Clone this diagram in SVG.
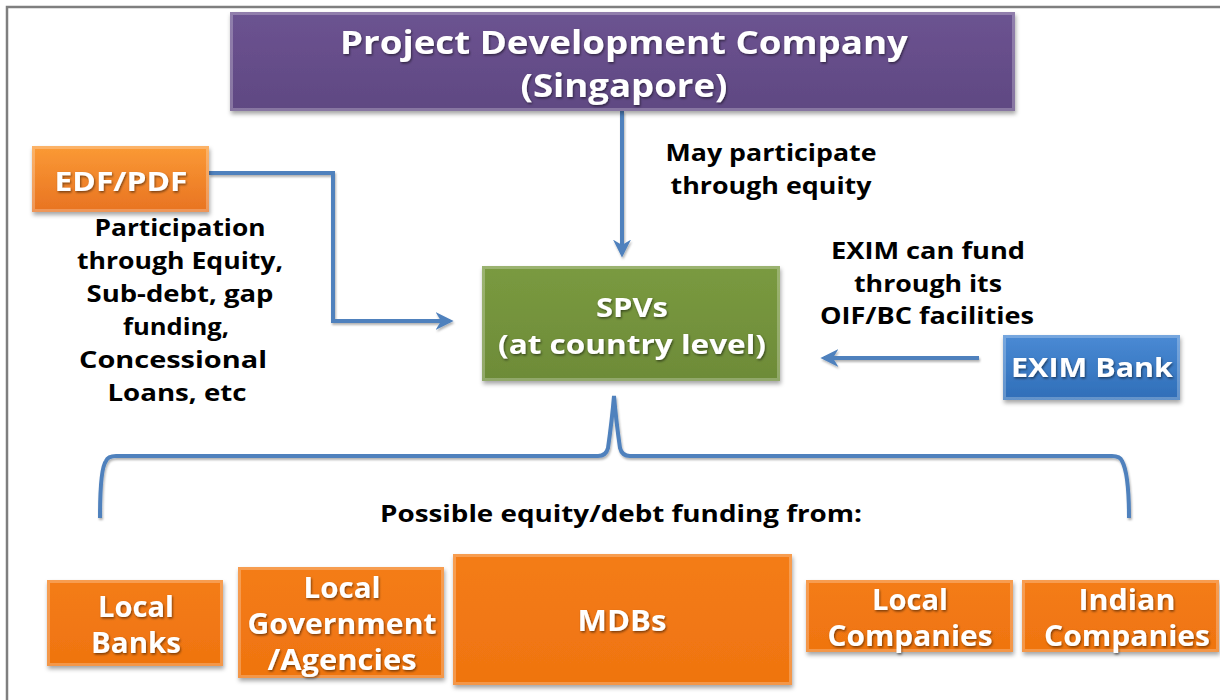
<svg xmlns="http://www.w3.org/2000/svg" width="1220" height="700" viewBox="0 0 1220 700">
<defs>
<linearGradient id="gPurple" x1="0" y1="0" x2="0" y2="1"><stop offset="0" stop-color="#6c5391"/><stop offset="1" stop-color="#5f4882"/></linearGradient>
<linearGradient id="gOrange1" x1="0" y1="0" x2="0" y2="1"><stop offset="0" stop-color="#fb9a35"/><stop offset="1" stop-color="#e87322"/></linearGradient>
<linearGradient id="gGreen" x1="0" y1="0" x2="0" y2="1"><stop offset="0" stop-color="#7a9a40"/><stop offset="1" stop-color="#6d8b38"/></linearGradient>
<linearGradient id="gBlue" x1="0" y1="0" x2="0" y2="1"><stop offset="0" stop-color="#4a8ad4"/><stop offset="1" stop-color="#2f6eb8"/></linearGradient>
<linearGradient id="gOrange2" x1="0" y1="0" x2="0" y2="1"><stop offset="0" stop-color="#f47c16"/><stop offset="1" stop-color="#ef7410"/></linearGradient>
<filter id="shadow" x="-10%" y="-10%" width="120%" height="130%"><feDropShadow dx="1" dy="3" stdDeviation="2" flood-color="#000" flood-opacity="0.35"/></filter>
<filter id="tshadow" x="-5%" y="-20%" width="110%" height="140%"><feDropShadow dx="1" dy="1.5" stdDeviation="1" flood-color="#000" flood-opacity="0.5"/></filter>
<filter id="lshadow" filterUnits="userSpaceOnUse" x="0" y="0" width="1220" height="700"><feDropShadow dx="1" dy="2" stdDeviation="1.2" flood-color="#000" flood-opacity="0.3"/></filter>
<marker id="arrow" viewBox="0 0 10 10" refX="8" refY="5" markerWidth="4.5" markerHeight="4.5" orient="auto" markerUnits="strokeWidth"><path d="M0,0 L10,5 L0,10 L3,5 Z" fill="#4f81bd"/></marker>
</defs>
<style>
.box{filter:url(#shadow)}
.bevel{fill:none;stroke:#ffffff;stroke-opacity:0.25;stroke-width:3}
.wt{font-family:"Open Sans",Lato,sans-serif;font-weight:bold;fill:#ffffff;text-anchor:middle;filter:url(#tshadow)}
.bt{font-family:"Open Sans",Lato,sans-serif;font-weight:bold;fill:#000000;text-anchor:middle;font-size:23px}
.conn{fill:none;stroke:#4f81bd;stroke-width:4;filter:url(#lshadow)}
</style>
<rect width="1220" height="700" fill="#ffffff"/>
<path d="M7,700 L7,7 L1220,7" fill="none" stroke="#7f7f7f" stroke-width="2.5"/>

<g id="connectors">
<path class="conn" d="M622,111 L622,254" marker-end="url(#arrow)"/>
<path class="conn" d="M209,173 L333,173 L333,321 L450,321" marker-end="url(#arrow)"/>
<path class="conn" d="M979,358 L824,358" marker-end="url(#arrow)"/>
<path class="conn" d="M100,518 C100,490 102,466 106,461 Q108,456 116,456 L598,456 Q606,456 608,448 Q612,420 614,396 Q616,420 620,448 Q622,456 630,456 L1112,456 Q1120,456 1122,461 C1127,470 1129,490 1129,518"/>
</g>

<g id="pdc">
<rect class="box" x="230" y="12" width="785" height="99" fill="url(#gPurple)"/>
<rect class="bevel" x="231.5" y="13.5" width="782" height="96"/>
<text class="wt" font-size="33" x="624" y="54" textLength="568" lengthAdjust="spacingAndGlyphs">Project Development Company</text>
<text class="wt" font-size="33" x="624" y="97" textLength="207" lengthAdjust="spacingAndGlyphs">(Singapore)</text>
</g>

<g id="edf">
<rect class="box" x="32" y="146" width="177" height="66" fill="url(#gOrange1)"/>
<rect class="bevel" x="33.5" y="147.5" width="174" height="63"/>
<text class="wt" font-size="27" x="121" y="191" textLength="133" lengthAdjust="spacingAndGlyphs">EDF/PDF</text>
</g>

<g id="edf-label">
<text class="bt" x="180" y="236" textLength="171" lengthAdjust="spacingAndGlyphs">Participation</text>
<text class="bt" x="180" y="269" textLength="206" lengthAdjust="spacingAndGlyphs">through Equity,</text>
<text class="bt" x="180" y="302" textLength="187" lengthAdjust="spacingAndGlyphs">Sub-debt, gap</text>
<text class="bt" x="176" y="335" textLength="106" lengthAdjust="spacingAndGlyphs">funding,</text>
<text class="bt" x="173" y="368" textLength="188" lengthAdjust="spacingAndGlyphs">Concessional</text>
<text class="bt" x="177" y="401" textLength="139" lengthAdjust="spacingAndGlyphs">Loans, etc</text>
</g>

<g id="pdc-label">
<text class="bt" x="771" y="161" textLength="211" lengthAdjust="spacingAndGlyphs">May participate</text>
<text class="bt" x="771" y="194" textLength="201" lengthAdjust="spacingAndGlyphs">through equity</text>
</g>

<g id="spv">
<rect class="box" x="482" y="266" width="298" height="115" fill="url(#gGreen)"/>
<rect class="bevel" x="483.5" y="267.5" width="295" height="112"/>
<text class="wt" font-size="27" x="632" y="317" textLength="72" lengthAdjust="spacingAndGlyphs">SPVs</text>
<text class="wt" font-size="27" x="632" y="354" textLength="268" lengthAdjust="spacingAndGlyphs">(at country level)</text>
</g>

<g id="exim-label">
<text class="bt" x="928" y="259" textLength="194" lengthAdjust="spacingAndGlyphs">EXIM can fund</text>
<text class="bt" x="928" y="292" textLength="148" lengthAdjust="spacingAndGlyphs">through its</text>
<text class="bt" x="927" y="324" textLength="214" lengthAdjust="spacingAndGlyphs">OIF/BC facilities</text>
</g>

<g id="exim">
<rect class="box" x="1003" y="335" width="177" height="65" fill="url(#gBlue)"/>
<rect class="bevel" x="1004.5" y="336.5" width="174" height="62"/>
<text class="wt" font-size="27" x="1092" y="377" textLength="162" lengthAdjust="spacingAndGlyphs">EXIM Bank</text>
</g>

<g id="funding-label">
<text class="bt" x="621" y="522" textLength="482" lengthAdjust="spacingAndGlyphs">Possible equity/debt funding from:</text>
</g>

<g id="local-banks">
<rect class="box" x="47" y="580" width="176" height="86" fill="url(#gOrange2)"/>
<rect class="bevel" x="48.5" y="581.5" width="173" height="83"/>
<text class="wt" font-size="28" x="136" y="617" textLength="76" lengthAdjust="spacingAndGlyphs">Local</text>
<text class="wt" font-size="28" x="136" y="653" textLength="90" lengthAdjust="spacingAndGlyphs">Banks</text>
</g>

<g id="local-gov">
<rect class="box" x="238" y="567" width="206" height="111" fill="url(#gOrange2)"/>
<rect class="bevel" x="239.5" y="568.5" width="203" height="108"/>
<text class="wt" font-size="28" x="342" y="598" textLength="77" lengthAdjust="spacingAndGlyphs">Local</text>
<text class="wt" font-size="28" x="342" y="634" textLength="189" lengthAdjust="spacingAndGlyphs">Government</text>
<text class="wt" font-size="28" x="342" y="670" textLength="149" lengthAdjust="spacingAndGlyphs">/Agencies</text>
</g>

<g id="mdbs">
<rect class="box" x="453" y="554" width="339" height="131" fill="url(#gOrange2)"/>
<rect class="bevel" x="454.5" y="555.5" width="336" height="128"/>
<text class="wt" font-size="28" x="622" y="631" textLength="89" lengthAdjust="spacingAndGlyphs">MDBs</text>
</g>

<g id="local-companies">
<rect class="box" x="806" y="580" width="207" height="72" fill="url(#gOrange2)"/>
<rect class="bevel" x="807.5" y="581.5" width="204" height="69"/>
<text class="wt" font-size="28" x="910" y="610" textLength="76" lengthAdjust="spacingAndGlyphs">Local</text>
<text class="wt" font-size="28" x="910" y="646" textLength="165" lengthAdjust="spacingAndGlyphs">Companies</text>
</g>

<g id="indian-companies">
<rect class="box" x="1022" y="580" width="197" height="72" fill="url(#gOrange2)"/>
<rect class="bevel" x="1023.5" y="581.5" width="194" height="69"/>
<text class="wt" font-size="28" x="1127" y="610" textLength="97" lengthAdjust="spacingAndGlyphs">Indian</text>
<text class="wt" font-size="28" x="1127" y="646" textLength="166" lengthAdjust="spacingAndGlyphs">Companies</text>
</g>
</svg>
